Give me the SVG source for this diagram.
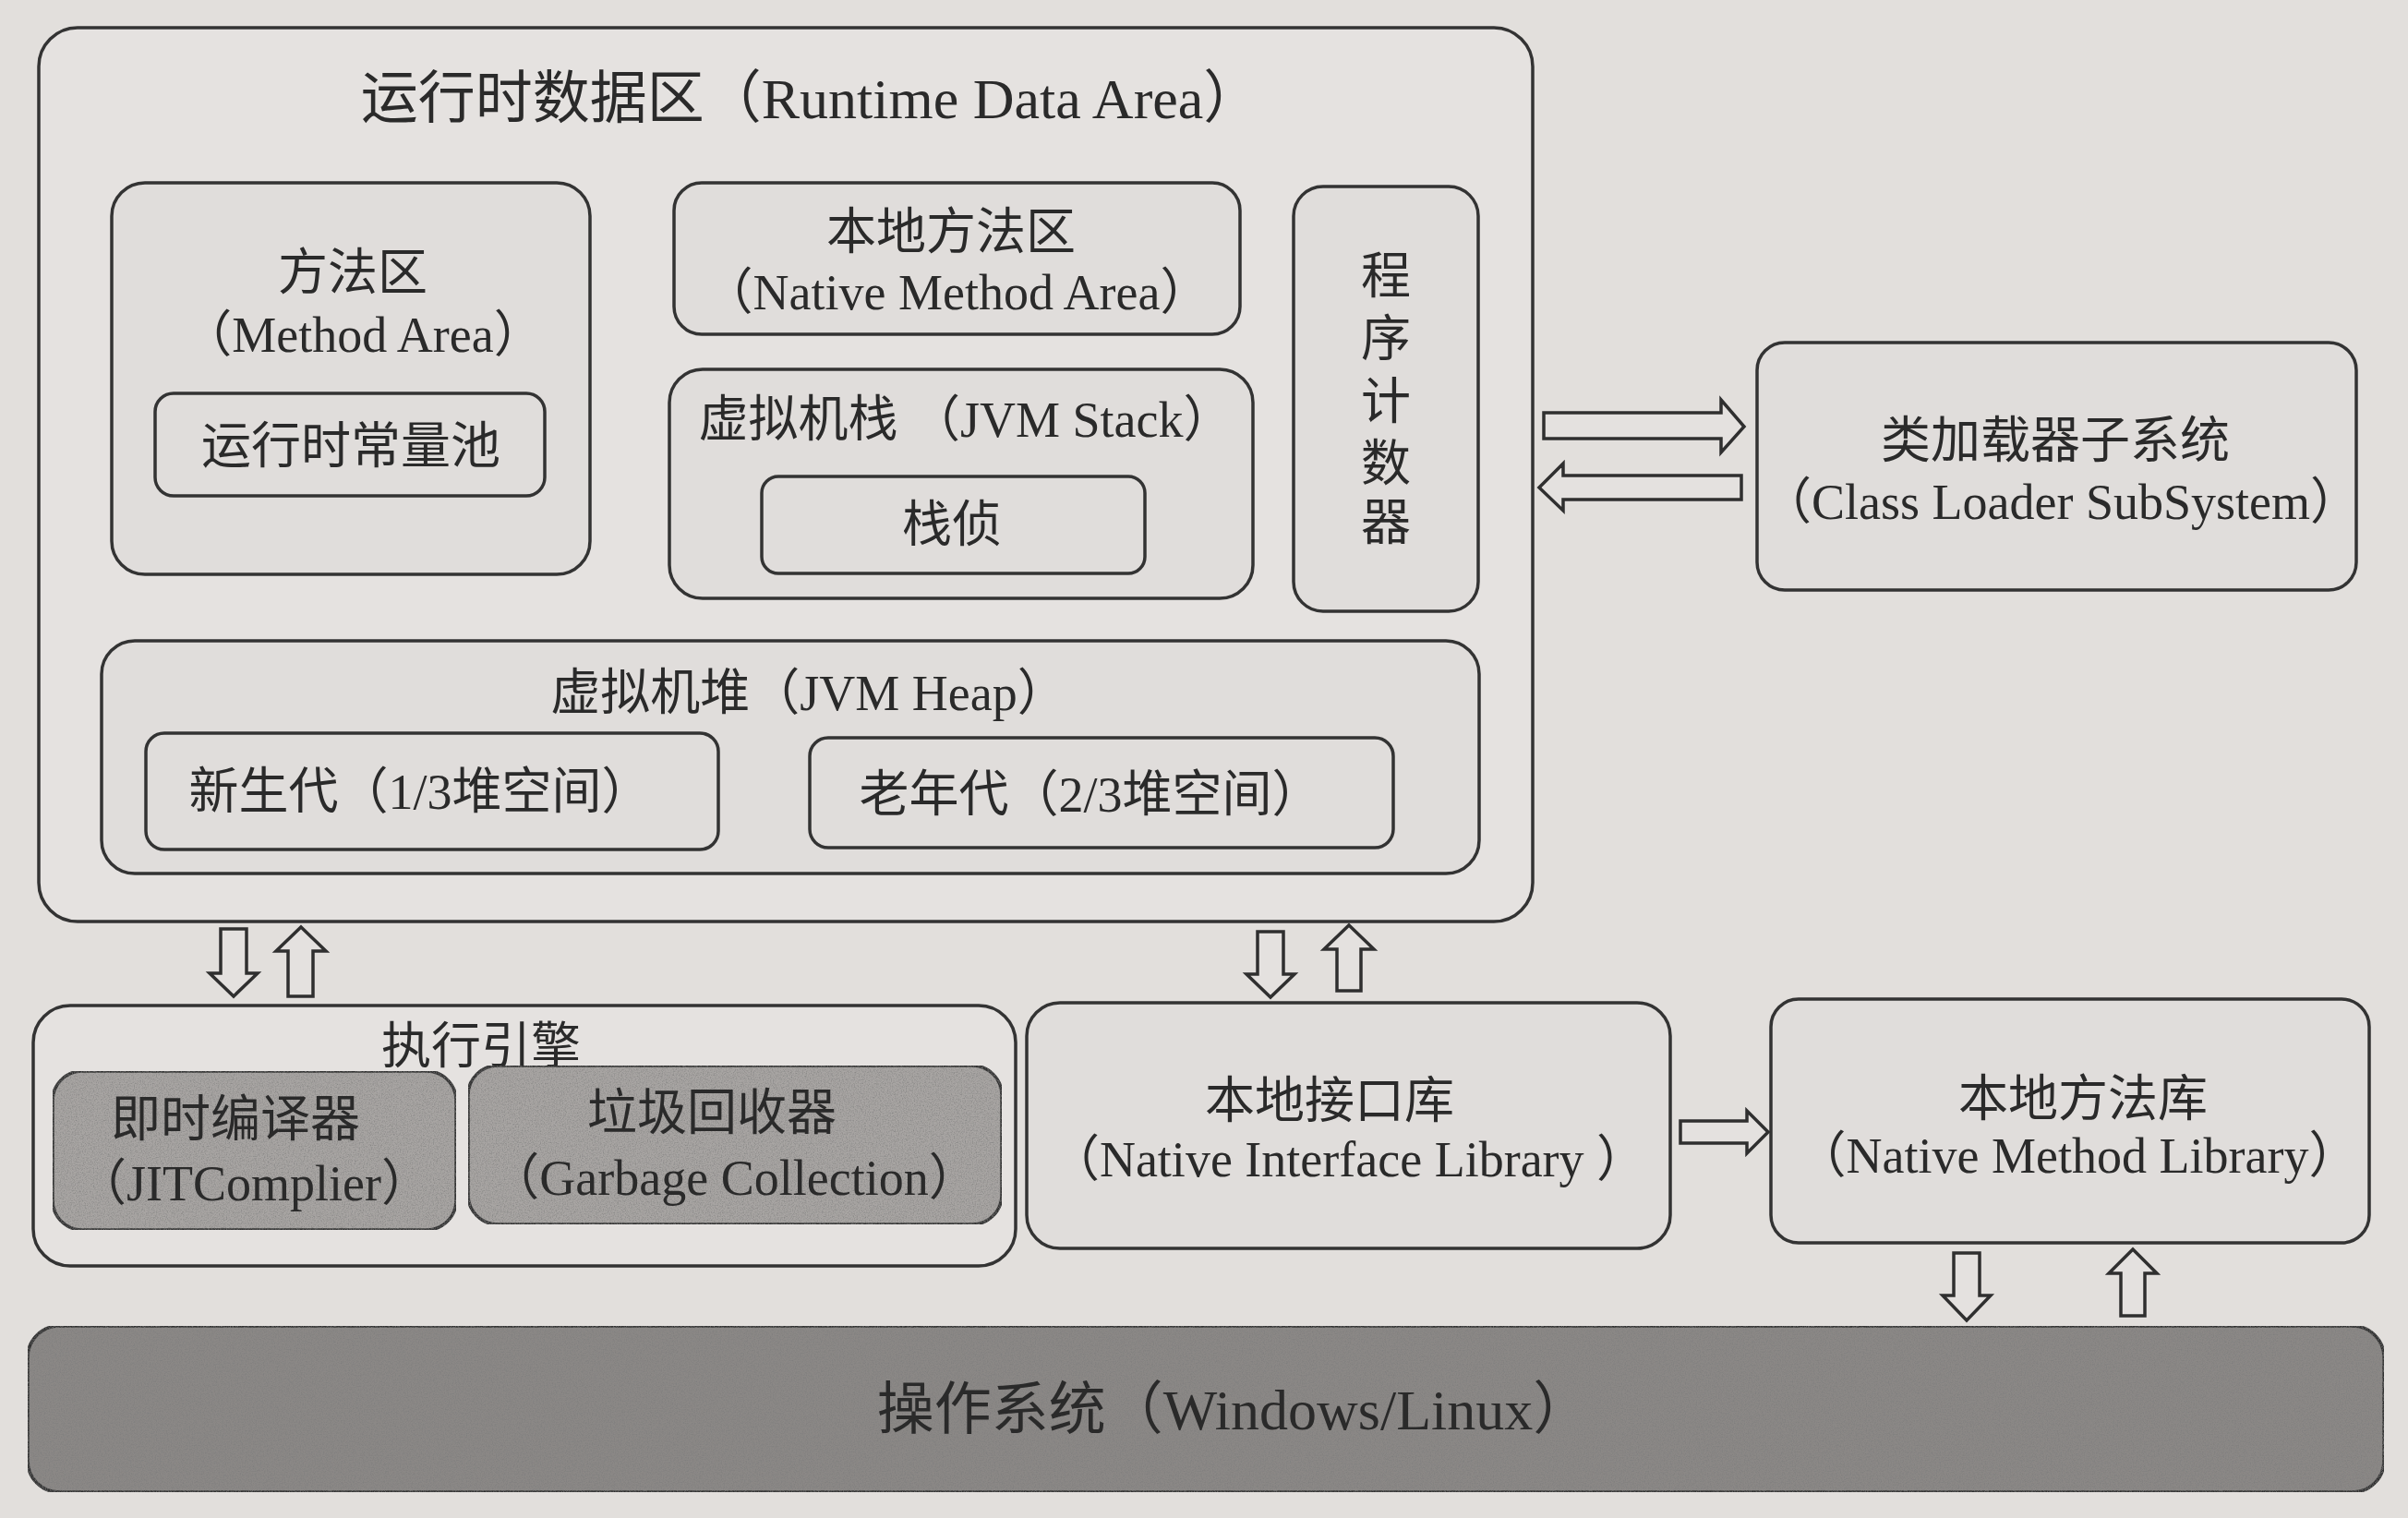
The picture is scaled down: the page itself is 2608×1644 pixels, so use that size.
<svg xmlns="http://www.w3.org/2000/svg" width="2608" height="1644" viewBox="0 0 2608 1644">
<defs>
<filter id="speckle" x="0" y="0" width="100%" height="100%">
<feTurbulence type="fractalNoise" baseFrequency="0.75" numOctaves="2" seed="4" result="n"/>
<feColorMatrix in="n" type="matrix" values="0 0 0 0 0.2  0 0 0 0 0.2  0 0 0 0 0.2  1.6 0 0 0 -0.65" result="dots"/>
<feComposite in="dots" in2="SourceGraphic" operator="in" result="clip"/>
<feMerge><feMergeNode in="SourceGraphic"/><feMergeNode in="clip"/></feMerge>
</filter>
<style>
.box{fill:#e0dddb;stroke:#333;stroke-width:3.5}
.outer{fill:#e5e2e0;stroke:#333;stroke-width:3.5}
.dark{fill:#a8a5a3;stroke:#333;stroke-width:3.5}
.os{fill:#8b8886;stroke:#333;stroke-width:3.5}
.arrow{fill:#e4e1df;stroke:#2f2f2f;stroke-width:3.5;stroke-linejoin:miter}
text{font-family:"Liberation Serif","Noto Sans CJK SC",serif;fill:#2a2a2a;text-anchor:middle}
.t{font-size:54px}
.h{font-size:62px}
</style>
</defs>
<rect x="0" y="0" width="2608" height="1644" fill="#e2dfdc"/>

<g id="runtime-data-area">
<rect class="outer" x="42" y="30" width="1618" height="968" rx="42"/>
<text class="h" x="878" y="128">运行时数据区（Runtime Data Area）</text>
</g>

<g id="method-area">
<rect class="box" x="121" y="198" width="518" height="424" rx="36"/>
<text class="t" x="382" y="314">方法区</text>
<text class="t" x="393" y="381">（Method Area）</text>
</g>

<g id="runtime-constant-pool">
<rect class="box" x="168" y="426" width="422" height="111" rx="20"/>
<text class="t" x="380" y="502">运行时常量池</text>
</g>

<g id="native-method-area">
<rect class="box" x="730" y="198" width="613" height="164" rx="30"/>
<text class="t" x="1030" y="270">本地方法区</text>
<text class="t" x="1036" y="335">（Native Method Area）</text>
</g>

<g id="jvm-stack">
<rect class="box" x="725" y="400" width="632" height="248" rx="36"/>
<text class="t" x="1046" y="473">虚拟机栈 （JVM Stack）</text>
</g>

<g id="stack-frame">
<rect class="box" x="825" y="516" width="415" height="105" rx="18"/>
<text class="t" x="1031" y="587">栈侦</text>
</g>

<g id="program-counter">
<rect class="box" x="1401" y="202" width="200" height="460" rx="32"/>
<text class="t" x="1501" y="318">程</text>
<text class="t" x="1501" y="386">序</text>
<text class="t" x="1501" y="454">计</text>
<text class="t" x="1501" y="521">数</text>
<text class="t" x="1501" y="585">器</text>
</g>

<g id="jvm-heap">
<rect class="box" x="110" y="694" width="1492" height="252" rx="36"/>
<text class="t" x="876" y="769">虚拟机堆（JVM Heap）</text>
</g>

<g id="young-gen">
<rect class="box" x="158" y="794" width="620" height="126" rx="20"/>
<text class="t" x="455" y="876">新生代（1/3堆空间）</text>
</g>

<g id="old-gen">
<rect class="box" x="877" y="799" width="632" height="119" rx="20"/>
<text class="t" x="1181" y="879">老年代（2/3堆空间）</text>
</g>

<g id="class-loader">
<rect class="box" x="1903" y="371" width="649" height="268" rx="30"/>
<text class="t" x="2226" y="496">类加载器子系统</text>
<text class="t" x="2232" y="562">（Class Loader SubSystem）</text>
</g>

<g id="execution-engine">
<rect class="outer" x="36" y="1089" width="1064" height="282" rx="40"/>
<text class="t" x="521" y="1152">执行引擎</text>
</g>

<g id="jit-compiler">
<rect class="dark" filter="url(#speckle)" x="57" y="1160" width="437" height="172" rx="32"/>
<text class="t" x="255" y="1231">即时编译器</text>
<text class="t" x="275" y="1300">（JITComplier）</text>
</g>

<g id="garbage-collector">
<rect class="dark" filter="url(#speckle)" x="507" y="1154" width="578" height="172" rx="32"/>
<text class="t" x="771" y="1224">垃圾回收器</text>
<text class="t" x="795" y="1294">（Garbage Collection）</text>
</g>

<g id="native-interface-library">
<rect class="box" x="1112" y="1086" width="697" height="266" rx="36"/>
<text class="t" x="1440" y="1211">本地接口库</text>
<text class="t" x="1460" y="1274">（Native Interface Library ）</text>
</g>

<g id="native-method-library">
<rect class="box" x="1918" y="1082" width="648" height="264" rx="30"/>
<text class="t" x="2256" y="1209">本地方法库</text>
<text class="t" x="2250" y="1270">（Native Method Library）</text>
</g>

<g id="operating-system">
<rect class="os" filter="url(#speckle)" x="30" y="1436" width="2552" height="180" rx="34"/>
<text class="h" x="1336" y="1548">操作系统（Windows/Linux）</text>
</g>

<g id="connectors">
<polygon class="arrow" points="1672,447 1864,447 1864,433 1889,462 1864,490 1864,475 1672,475"/>
<polygon class="arrow" points="1886,515 1693,515 1693,502 1667,528 1693,553 1693,541 1886,541"/>
<polygon class="arrow" points="239,1006 267,1006 267,1054 279,1054 253,1079 227,1054 239,1054"/>
<polygon class="arrow" points="326,1004 353,1030 339,1030 339,1079 312,1079 312,1030 299,1030"/>
<polygon class="arrow" points="1362,1009 1390,1009 1390,1055 1402,1055 1376,1080 1350,1055 1362,1055"/>
<polygon class="arrow" points="1461,1002 1488,1028 1474,1028 1474,1073 1448,1073 1448,1028 1434,1028"/>
<polygon class="arrow" points="1820,1214 1892,1214 1892,1203 1915,1226 1892,1249 1892,1238 1820,1238"/>
<polygon class="arrow" points="2116,1357 2144,1357 2144,1403 2156,1403 2130,1430 2104,1403 2116,1403"/>
<polygon class="arrow" points="2310,1353 2336,1379 2323,1379 2323,1425 2297,1425 2297,1379 2284,1379"/>
</g>
</svg>
